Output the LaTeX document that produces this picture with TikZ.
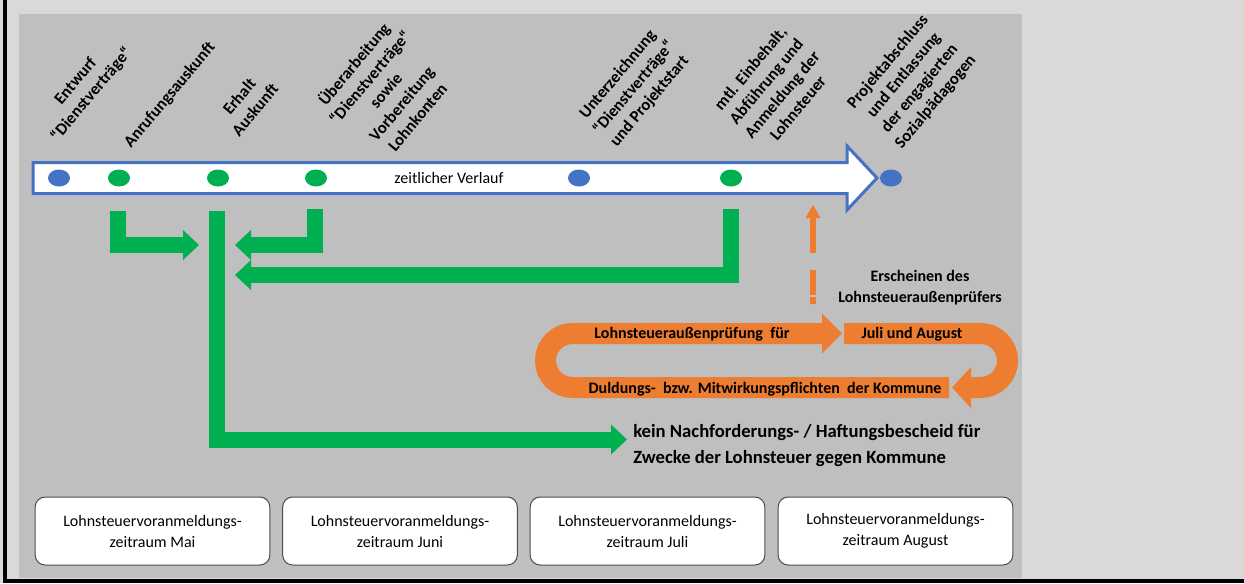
\documentclass[tikz,border=0pt]{standalone}
\usepackage{fontspec}
\setmainfont{Carlito}
\usetikzlibrary{arrows.meta}
\usetikzlibrary{shapes.geometric}
\definecolor{blau}{HTML}{4472C4}
\definecolor{gruen}{HTML}{00B050}
\definecolor{orangeT}{HTML}{ED7D31}
\definecolor{hgrau}{HTML}{D9D9D9}
\definecolor{dgrau}{HTML}{BFBFBF}
\tikzset{
  Punkt/.style={ellipse,fill=#1,minimum width=16.5pt,minimum height=12.75pt,inner sep=0pt}, % Zeitpunkte
  Etikett/.style={rotate=50,align=center,inner sep=0pt,font=\fontsize{12.5}{15.5}\selectfont\bfseries}, % Beschriftung oben
  GPfeil/.style={gruen,line width=12pt,-{Triangle[length=12pt,width=22.5pt,line width=0pt]}}, % gruene Pfeile
  OPfeil/.style={orangeT,line width=15.75pt,rounded corners=20.25pt,-{Triangle[length=15pt,width=30pt,line width=0pt]}}, % orange Schleife
  OText/.style={inner sep=0pt,font=\fontsize{12}{15.75}\selectfont\bfseries},
  Kasten/.style={draw=black!70,line width=0.75pt,fill=white,rounded corners=7.5pt,
    minimum width=176pt,minimum height=51pt,align=center,font=\fontsize{12}{15.75}\selectfont}
}
\begin{document}
\begin{tikzpicture}[x=0.75pt,y=-0.75pt]
\useasboundingbox (0,0) rectangle (1244,583);
\fill[hgrau] (0,0) rectangle (1244,583);
\draw[line width=2.5pt] (5,0) -- (5,581) -- (1244,581);
\fill[dgrau] (19,14) rectangle (1022,578);

%Zeitstrahl
\draw[blau,line width=2.25pt,fill=white] (33,162.5) -- (847,162.5) -- (847,146) -- (877,178)
  -- (847,210) -- (847,193.5) -- (33,193.5) -- cycle;
\node[font=\fontsize{12}{14}\selectfont] (verlauf) at (449,178) {zeitlicher Verlauf};

%Zeitpunkte
\node[Punkt=blau]  (b1) at (59,178) {};
\node[Punkt=gruen] (g1) at (119,178) {};
\node[Punkt=gruen] (g2) at (218,178) {};
\node[Punkt=gruen] (g3) at (316,178) {};
\node[Punkt=blau]  (b2) at (579,178) {};
\node[Punkt=gruen] (g4) at (731,178) {};
\node[Punkt=blau]  (b3) at (891,178) {};

%Beschriftungen
\node[Etikett] (l1) at (84,88) {Entwurf\\“Dienstverträge“};
\node[Etikett] (l2) at (170,95) {Anrufungsauskunft};
\node[Etikett] (l3) at (247,103) {Erhalt\\Auskunft};
\node[Etikett] (l4) at (385,90) {Überarbeitung\\“Dienstverträge“\\sowie\\Vorbereitung\\Lohnkonten};
\node[Etikett] (l5) at (634,88) {Unterzeichnung\\“Dienstverträge“\\und Projektstart};
\node[Etikett] (l6) at (774,88) {mtl. Einbehalt,\\Abführung und\\Anmeldung der\\Lohnsteuer};
\node[Etikett] (l7) at (912,82) {Projektabschluss\\und Entlassung\\der engagierten\\Sozialpädagogen};

%gruene Pfeile
\coordinate (g1u) at (118,211);   \coordinate (g1z) at (199,245);
\coordinate (g2u) at (217,211);   \coordinate (g2z) at (627,439.5);
\coordinate (g3u) at (315,209);   \coordinate (g3z) at (235,245);
\coordinate (g4u) at (730.5,209); \coordinate (g4z) at (235,275);
\draw[GPfeil] (g1u) |- (g1z);
\draw[GPfeil] (g3u) |- (g3z);
\draw[GPfeil] (g4u) |- (g4z);
\draw[GPfeil] (g2u) |- (g2z);
\node[anchor=west,align=left,inner sep=0pt,font=\fontsize{14}{19.5}\selectfont\bfseries] (kein) at (633,446)
  {kein Nachforderungs- / Haftungsbescheid für\\Zwecke der Lohnsteuer gegen Kommune};

%Aussenpruefung
\coordinate (e1) at (813,304); \coordinate (e2) at (813,205);
\draw[orangeT,line width=4.5pt,dash pattern=on 5.25pt off 1.5pt on 18.75pt off 12.75pt on 60pt,
  -{Triangle[length=9.75pt,width=11.25pt,line width=0pt]}] (e1) -- (e2);
\node[OText,align=center] (erscheinen) at (920,288) {Erscheinen des\\Lohnsteueraußenprüfers};
\draw[OPfeil] (949,387.5) -- (545.5,387.5) -- (545.5,333.5) -- (842,333.5);
\draw[OPfeil,-{Triangle[length=14.25pt,width=30.75pt,line width=0pt]}]
  (844,333.5) -- (1007.5,333.5) -- (1007.5,387.5) -- (952,387.5);
\node[OText] (pruefung) at (692,334) {Lohnsteueraußenprüfung~ für};
\node[OText] (monate) at (912,334) {Juli und August};
\node[OText] (pflichten) at (765,389) {Duldungs-~ bzw. Mitwirkungspflichten~ der Kommune};

%Voranmeldungszeitraeume
\node[Kasten] (k1) at (152.5,531) {Lohnsteuervoranmeldungs-\\zeitraum Mai};
\node[Kasten] (k2) at (400,531) {Lohnsteuervoranmeldungs-\\zeitraum Juni};
\node[Kasten] (k3) at (647.5,531) {Lohnsteuervoranmeldungs-\\zeitraum Juli};
\node[Kasten] (k4) at (895.5,531) {Lohnsteuervoranmeldungs-\\zeitraum August};
\end{tikzpicture}
\end{document}
